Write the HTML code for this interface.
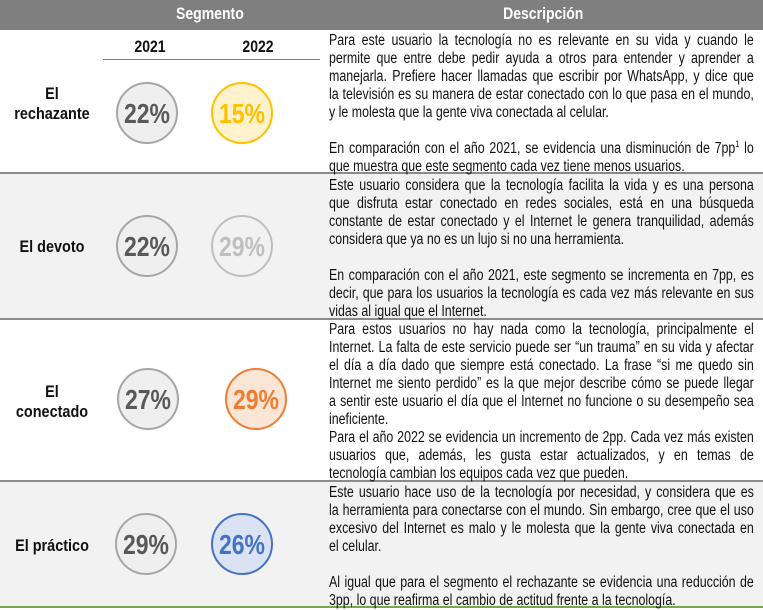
<!DOCTYPE html>
<html><head><meta charset="utf-8"><style>
body{margin:0;width:763px;height:608px;position:relative;overflow:hidden;background:#fff;font-family:"Liberation Sans",Arial,sans-serif}
.hdr{position:absolute;top:0;left:0;width:763px;height:30px;background:#7f7f7f}
.hdr span{position:absolute;top:5px;color:#fff;font-weight:bold;font-size:16.5px;transform:scaleX(.85);transform-origin:center}
.row{position:absolute;left:0;width:763px}
.sep{position:absolute;left:0;width:763px;height:2px;background:#8a8a8a}
.txt{position:absolute;left:329px;width:531px;transform:scaleX(.8);transform-origin:0 0;font-size:15.5px;color:#111}
.txt div{height:18px;line-height:18px;white-space:nowrap;text-align:justify;text-align-last:justify}
.txt div.l{text-align-last:left}
.txt div.b{height:18px}
svg{position:absolute;left:0;top:0}
</style></head><body>
<div class="hdr"><span style="left:170px">Segmento</span><span style="left:496px">Descripción</span></div>
<div class="row" style="top:174px;height:146px;background:#f2f2f2"></div>
<div class="row" style="top:482px;height:125px;background:#f2f2f2"></div>
<div class="sep" style="top:172px"></div>
<div class="sep" style="top:318px"></div>
<div class="sep" style="top:480px"></div>
<div class="row" style="top:606px;height:2px;background:#70ad47"></div>

<svg width="330" height="608" font-family="Liberation Sans, Arial, sans-serif">
<g font-weight="bold" font-size="16.5" fill="#111" text-anchor="middle">
<text x="150" y="52" transform="translate(150 0) scale(.85 1) translate(-150 0)">2021</text>
<text x="258" y="52" transform="translate(258 0) scale(.85 1) translate(-258 0)">2022</text>
<g transform="translate(52 0) scale(.85 1) translate(-52 0)" font-size="17">
<text x="52" y="99">El</text><text x="52" y="119">rechazante</text>
<text x="52" y="252">El devoto</text>
<text x="52" y="397">El</text><text x="52" y="417">conectado</text>
<text x="52" y="551">El práctico</text>
</g></g>
<line x1="103" y1="59.5" x2="320" y2="59.5" stroke="#808080" stroke-width="1"/>
<g stroke-width="2">
<circle cx="147" cy="113" r="30" fill="#efefef" stroke="#a6a6a6"/>
<circle cx="242" cy="113" r="30" fill="#fff2cc" stroke="#ffc000"/>
<circle cx="147" cy="246" r="30" fill="#efefef" stroke="#a6a6a6"/>
<circle cx="242" cy="246" r="30" fill="#f2f2f2" stroke="#bfbfbf"/>
<circle cx="148" cy="399" r="30" fill="#efefef" stroke="#a6a6a6"/>
<circle cx="256" cy="399" r="30" fill="#fbe5d6" stroke="#ed7d31"/>
<circle cx="146" cy="544" r="30" fill="#efefef" stroke="#a6a6a6"/>
<circle cx="242" cy="544" r="30" fill="#dae3f3" stroke="#4472c4"/>
</g>
<g font-weight="bold" font-size="28" text-anchor="middle">
<text x="147" y="123" fill="#595959" transform="translate(147 0) scale(.82 1) translate(-147 0)">22%</text>
<text x="242" y="123" fill="#ffc000" transform="translate(242 0) scale(.82 1) translate(-242 0)">15%</text>
<text x="147" y="256" fill="#595959" transform="translate(147 0) scale(.82 1) translate(-147 0)">22%</text>
<text x="242" y="256" fill="#bfbfbf" transform="translate(242 0) scale(.82 1) translate(-242 0)">29%</text>
<text x="148" y="409" fill="#595959" transform="translate(148 0) scale(.82 1) translate(-148 0)">27%</text>
<text x="256" y="409" fill="#ed7d31" transform="translate(256 0) scale(.82 1) translate(-256 0)">29%</text>
<text x="146" y="554" fill="#595959" transform="translate(146 0) scale(.82 1) translate(-146 0)">29%</text>
<text x="242" y="554" fill="#4472c4" transform="translate(242 0) scale(.82 1) translate(-242 0)">26%</text>
</g>
</svg>

<div class="txt" style="top:32px">
<div>Para este usuario la tecnología no es relevante en su vida y cuando le</div>
<div>permite que entre debe pedir ayuda a otros para entender y aprender a</div>
<div>manejarla. Prefiere hacer llamadas que escribir por WhatsApp, y dice que</div>
<div>la televisión es su manera de estar conectado con lo que pasa en el mundo,</div>
<div class="l">y le molesta que la gente viva conectada al celular.</div>
<div class="b"></div>
<div>En comparación con el año 2021, se evidencia una disminución de 7pp<sup style="font-size:9px;line-height:0">1</sup> lo</div>
<div class="l">que muestra que este segmento cada vez tiene menos usuarios.</div>
</div>

<div class="txt" style="top:177px">
<div>Este usuario considera que la tecnología facilita la vida y es una persona</div>
<div>que disfruta estar conectado en redes sociales, está en una búsqueda</div>
<div>constante de estar conectado y el Internet le genera tranquilidad, además</div>
<div class="l">considera que ya no es un lujo si no una herramienta.</div>
<div class="b"></div>
<div>En comparación con el año 2021, este segmento se incrementa en 7pp, es</div>
<div>decir, que para los usuarios la tecnología es cada vez más relevante en sus</div>
<div class="l">vidas al igual que el Internet.</div>
</div>

<div class="txt" style="top:321px">
<div>Para estos usuarios no hay nada como la tecnología, principalmente el</div>
<div>Internet. La falta de este servicio puede ser “un trauma” en su vida y afectar</div>
<div>el día a día dado que siempre está conectado. La frase “si me quedo sin</div>
<div>Internet me siento perdido” es la que mejor describe cómo se puede llegar</div>
<div>a sentir este usuario el día que el Internet no funcione o su desempeño sea</div>
<div class="l">ineficiente.</div>
<div>Para el año 2022 se evidencia un incremento de 2pp. Cada vez más existen</div>
<div>usuarios que, además, les gusta estar actualizados, y en temas de</div>
<div class="l">tecnología cambian los equipos cada vez que pueden.</div>
</div>

<div class="txt" style="top:484px">
<div>Este usuario hace uso de la tecnología por necesidad, y considera que es</div>
<div>la herramienta para conectarse con el mundo. Sin embargo, cree que el uso</div>
<div>excesivo del Internet es malo y le molesta que la gente viva conectada en</div>
<div class="l">el celular.</div>
<div class="b"></div>
<div>Al igual que para el segmento el rechazante se evidencia una reducción de</div>
<div class="l">3pp, lo que reafirma el cambio de actitud frente a la tecnología.</div>
</div>
</body></html>
